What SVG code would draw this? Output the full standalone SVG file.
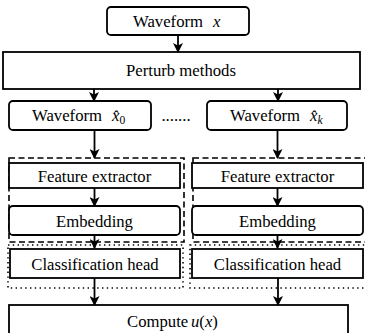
<svg xmlns="http://www.w3.org/2000/svg" width="365" height="333" viewBox="0 0 365 333">
<style>
.box{fill:#fff;stroke:#000;stroke-width:1.8}
text{font-family:'Liberation Serif','Times New Roman',serif;font-size:16.7px;fill:#000;text-anchor:middle}
.s{text-anchor:start}
.m{font-style:italic}
.sub{font-size:11.5px}
.c{stroke:#000;stroke-width:1.8;fill:none;marker-end:url(#ah)}
.dash{fill:none;stroke:#000;stroke-width:1.6;stroke-dasharray:6,3.5}
.dot{fill:none;stroke:#000;stroke-width:1.6;stroke-dasharray:1.4,3.4}
</style>
<defs>
<marker id="ah" viewBox="0 0 10 10" refX="9" refY="5" markerWidth="10" markerHeight="10" markerUnits="userSpaceOnUse" orient="auto">
<path d="M0,0 L10,5 L0,10 L2.5,5 z" fill="#000"/>
</marker>
</defs>
<rect x="0" y="0" width="365" height="333" fill="#fff"/>
<g id="groups">
<rect class="dash" x="9" y="158" width="175" height="84"/>
<rect class="dash" x="193" y="158" width="175" height="84"/>
<rect class="dot" x="8" y="245" width="175" height="43"/>
<rect class="dot" x="190" y="245" width="178" height="43"/>
</g>
<g id="connectors">
<line class="c" x1="178" y1="35" x2="178" y2="52"/>
<line class="c" x1="94" y1="89" x2="94" y2="101"/>
<line class="c" x1="278" y1="89" x2="278" y2="101"/>
<line class="c" x1="94.5" y1="130" x2="94.5" y2="158"/>
<line class="c" x1="277.5" y1="130" x2="277.5" y2="158"/>
<line class="c" x1="94.5" y1="188" x2="94.5" y2="206"/>
<line class="c" x1="277.5" y1="188" x2="277.5" y2="206"/>
<line class="c" x1="94.5" y1="235" x2="94.5" y2="248"/>
<line class="c" x1="277.5" y1="235" x2="277.5" y2="248"/>
<line class="c" x1="94.5" y1="278" x2="94.5" y2="305"/>
<line class="c" x1="278" y1="278" x2="278" y2="305"/>
</g>
<g id="waveform-x">
<rect class="box" x="107" y="7" width="142" height="28" rx="4"/>
<text class="s" x="133" y="27">Waveform<tspan class="m" x="213">x</tspan></text>
</g>
<g id="perturb">
<rect class="box" x="3" y="52" width="357" height="37"/>
<text x="181" y="76">Perturb methods</text>
</g>
<g id="waveform-x0">
<rect class="box" x="9" y="101" width="142" height="29" rx="4"/>
<text class="s" x="32" y="121">Waveform<tspan class="m" x="112">x̂</tspan><tspan class="sub" dy="3">0</tspan></text>
</g>
<g id="dots">
<text x="176" y="121">.......</text>
</g>
<g id="waveform-xk">
<rect class="box" x="207" y="101" width="140" height="29" rx="4"/>
<text class="s" x="230" y="121">Waveform<tspan class="m" x="310">x̂</tspan><tspan class="sub m" dy="3">k</tspan></text>
</g>
<g id="feature-left">
<rect class="box" x="9" y="163" width="171" height="25"/>
<text x="94.5" y="182">Feature extractor</text>
</g>
<g id="feature-right">
<rect class="box" x="192" y="163" width="171" height="25"/>
<text x="277.5" y="182">Feature extractor</text>
</g>
<g id="embedding-left">
<rect class="box" x="9" y="206" width="171" height="29" rx="4"/>
<text x="94.5" y="226.5">Embedding</text>
</g>
<g id="embedding-right">
<rect class="box" x="192" y="206" width="171" height="29" rx="4"/>
<text x="277.5" y="226.5">Embedding</text>
</g>
<g id="cls-left">
<rect class="box" x="10" y="249" width="170" height="29"/>
<text x="95" y="269.5">Classification head</text>
</g>
<g id="cls-right">
<rect class="box" x="192" y="249" width="171" height="29"/>
<text x="277.5" y="269.5">Classification head</text>
</g>
<g id="compute">
<rect class="box" x="9" y="305" width="339" height="40"/>
<text class="s" x="127" y="327">Compute<tspan class="m" x="191">u</tspan>(<tspan class="m">x</tspan>)</text>
</g>
</svg>
